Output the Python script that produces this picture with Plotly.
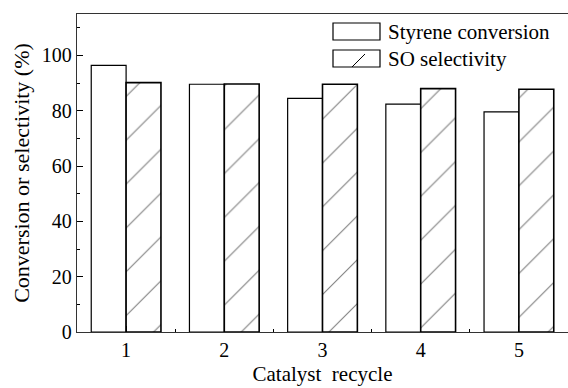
import plotly.graph_objects as go

# Catalyst recycling results
cycles = [1, 2, 3, 4, 5]
styrene_conversion = [96.4, 89.6, 84.5, 82.4, 79.6]
so_selectivity = [90.2, 89.7, 89.6, 88.0, 87.8]
y_ticks = [0, 20, 40, 60, 80, 100]

SERIF = "serif"

fig = go.Figure()
fig.add_trace(go.Bar(
    x=cycles, y=styrene_conversion, name="Styrene conversion",
    marker=dict(color="white", line=dict(color="black", width=1.2)),
    showlegend=False,
))
fig.add_trace(go.Bar(
    x=cycles, y=so_selectivity, name="SO selectivity",
    marker=dict(color="white", line=dict(color="black", width=1.6),
                pattern=dict(shape="/", size=31, solidity=0.035,
                             fgcolor="black", bgcolor="white")),
    showlegend=False,
))

# Hand-drawn legend with wide swatches
legend_items = [("Styrene conversion", False), ("SO selectivity", True)]
x0, x1 = 333, 380
for i, (label, hatched) in enumerate(legend_items):
    top = 23 + i * 27
    bot = top + 17
    fig.add_shape(type="rect", xref="paper", yref="paper",
                  x0=(x0 - 77) / 491, x1=(x1 - 77) / 491,
                  y0=(332 - bot) / 318, y1=(332 - top) / 318,
                  line=dict(color="black", width=1.2), fillcolor="white")
    if hatched:
        fig.add_shape(type="line", xref="paper", yref="paper",
                      x0=(352 - 77) / 491, x1=(365 - 77) / 491,
                      y0=(332 - bot) / 318, y1=(332 - top - 4) / 318,
                      line=dict(color="black", width=1))
    fig.add_annotation(text=label, xref="paper", yref="paper",
                       x=(386 - 77) / 491, y=(332 - (top + bot) / 2) / 318,
                       xanchor="left", yanchor="middle", showarrow=False,
                       font=dict(family=SERIF, size=21, color="black"))

fig.update_layout(
    width=568, height=388,
    margin=dict(l=77, r=0, t=14, b=56),
    plot_bgcolor="white",
    barmode="group", bargap=0.29, bargroupgap=0,
    font=dict(family=SERIF, size=20, color="black"),
)
fig.update_xaxes(
    range=[0.5, 5.5], tickvals=cycles, ticktext=[str(c) for c in cycles],
    ticks="inside", ticklen=6, tickwidth=1, tickcolor="black",
    minor=dict(tickvals=[1.5, 2.5, 3.5, 4.5], ticks="inside", ticklen=3, tickcolor="black"),
    showline=True, linecolor="#333", linewidth=1.3, mirror=True,
    showgrid=False, zeroline=False,
    title=dict(text="Catalyst  recycle", font=dict(family=SERIF, size=21, color="black"), standoff=6),
    tickfont=dict(family=SERIF, size=20, color="black"),
)
fig.update_yaxes(
    range=[0, 115], tickvals=y_ticks,
    ticks="inside", ticklen=6, tickwidth=1, tickcolor="black",
    minor=dict(tickvals=[10, 30, 50, 70, 90, 110], ticks="inside", ticklen=3, tickcolor="black"),
    showline=True, linecolor="#333", linewidth=1.3, mirror=True,
    showgrid=False, zeroline=False,
    title=dict(text="Conversion or selectivity (%)", font=dict(family=SERIF, size=22, color="black"), standoff=6),
    tickfont=dict(family=SERIF, size=20, color="black"),
)

fig.write_html("out.html")
